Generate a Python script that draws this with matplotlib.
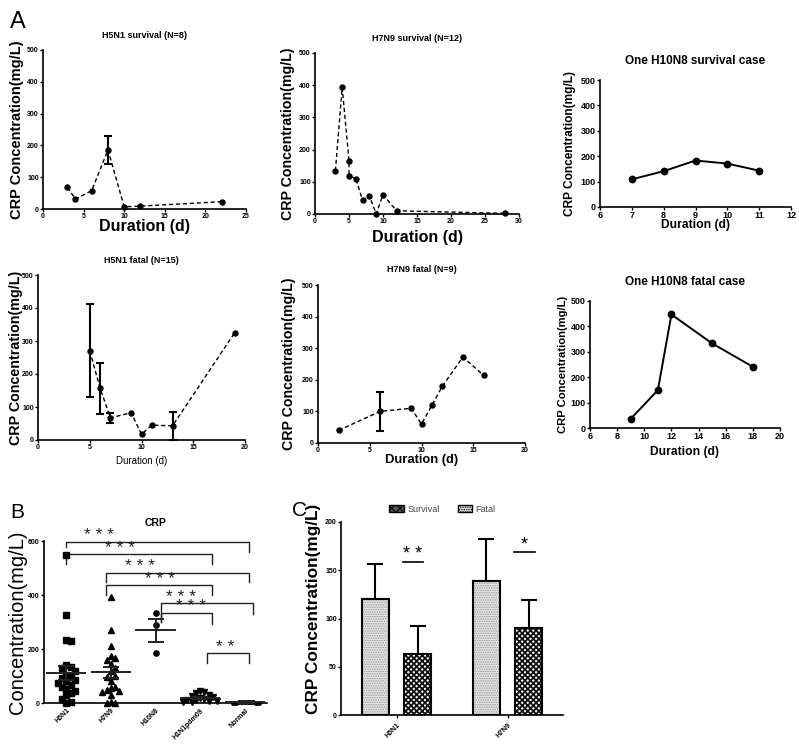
import matplotlib
matplotlib.use('Agg')
import matplotlib.pyplot as plt
from matplotlib.patches import Patch
import numpy as np

plt.rcParams['font.family'] = ['Liberation Sans', 'DejaVu Sans']
plt.rcParams['hatch.linewidth'] = 0.7

# ---------------- data ----------------
# Panel A: time courses
h5n1_surv_day = [3, 4, 6, 8, 10, 12, 22]
h5n1_surv_crp = [68, 31, 58, 186, 7, 9, 23]
h5n1_surv_err = [0, 0, 0, 44, 0, 0, 0]

h7n9_surv_day = [3, 4, 5, 5, 6, 7, 8, 9, 10, 12, 28]
h7n9_surv_crp = [134, 393, 166, 119, 110, 42, 56, 0, 60, 10, 2]

h10n8_surv_day = [7, 8, 9, 10, 11]
h10n8_surv_crp = [109, 141, 183, 171, 143]

h5n1_fatal_day = [5, 6, 7, 9, 10, 11, 13, 19]
h5n1_fatal_crp = [270, 157, 67, 83, 17, 45, 43, 325]
h5n1_fatal_err = [141, 77, 15, 0, 0, 0, 42, 0]

h7n9_fatal_day = [2, 6, 9, 10, 11, 12, 14, 16]
h7n9_fatal_crp = [40, 100, 110, 60, 119, 179, 272, 214]
h7n9_fatal_err = [0, 61, 0, 0, 0, 0, 0, 0]

h10n8_fatal_day = [9, 11, 12, 15, 18]
h10n8_fatal_crp = [36, 149, 447, 333, 241]

# Panel B: scatter per group
groups_B = ['H5N1', 'H7N9', 'H10N8', 'H1N1pdm09', 'Normal']
b_h5n1 = [550, 327, 232, 229, 140, 135, 128, 118, 105, 98, 92, 86, 80, 75, 68,
          60, 52, 45, 38, 28, 15, 5, 0]
b_h7n9 = [393, 269, 211, 175, 165, 160, 145, 130, 120, 100, 98, 80, 60, 55, 50,
          45, 40, 30, 5, 0, 0]
b_h10n8 = [333, 290, 186]
b_h1n1 = [45, 40, 36, 30, 26, 22, 18, 15, 12, 10, 8, 6, 4, 2]
b_normal = [3, 3, 2, 2, 2, 2, 1, 1, 1, 1]
b_means = [111, 114, 269, 18, 2]
b_sems = [26, 20, 42, 4, 0.5]
b_markers = ['s', '^', 'o', 'v', 'o']
sig_B = ['***', '***', '***', '***', '***', '***', '**']

# Panel C: bars
groups_C = ['H5N1', 'H7N9']
c_survival = [120, 139]
c_survival_err = [36, 43]
c_fatal = [63, 90]
c_fatal_err = [29, 29]
sig_C = ['**', '*']

# ---------------- figure ----------------
W, H = 799, 756
fig = plt.figure(figsize=(W / 100, H / 100), dpi=100)


def add_ax(x0, y0, x1, y1):
    return fig.add_axes([x0 / W, 1 - y1 / H, (x1 - x0) / W, (y1 - y0) / H])


def style(ax, tick_fs):
    for s in ['top', 'right']:
        ax.spines[s].set_visible(False)
    for s in ['left', 'bottom']:
        ax.spines[s].set_linewidth(1.2)
    ax.tick_params(length=2.2, width=1.0, labelsize=tick_fs, pad=0.8)
    for lab in ax.get_xticklabels() + ax.get_yticklabels():
        lab.set_fontweight('bold')


def panelA(ax, days, crp, err, xlim, xticks, title, title_fs, title_y,
           xlab_fs, xlab_bold, xlab_y, ylab_fs, ylab_x, tick_fs, dashed=True):
    ls = (0, (3, 2)) if dashed else '-'
    lw = 1.0 if dashed else 1.4
    ms = 3.6 if dashed else 4.6
    ax.plot(days, crp, linestyle=ls, color='black', lw=lw, marker='o',
            ms=ms, clip_on=False, zorder=3)
    if err is not None:
        d = [x for x, e in zip(days, err) if e > 0]
        c = [y for y, e in zip(crp, err) if e > 0]
        e2 = [e for e in err if e > 0]
        ax.errorbar(d, c, yerr=e2, fmt='none', ecolor='black', elinewidth=1.5,
                    capsize=3, capthick=1.5, clip_on=False, zorder=3)
    ax.set_xlim(*xlim)
    ax.set_xticks(xticks)
    ax.set_ylim(0, 500)
    ax.set_yticks([0, 100, 200, 300, 400, 500])
    style(ax, tick_fs)
    ax.text(0.5, title_y, title, transform=ax.transAxes, ha='center',
            va='center', fontsize=title_fs, fontweight='bold')
    ax.set_xlabel('Duration (d)', fontsize=xlab_fs,
                  fontweight='bold' if xlab_bold else 'normal')
    ax.xaxis.set_label_coords(0.5, xlab_y)
    ax.xaxis.label.set_va('center')
    ax.set_ylabel('CRP Concentration(mg/L)', fontsize=ylab_fs, fontweight='bold')
    ax.yaxis.set_label_coords(ylab_x, 0.5)
    ax.yaxis.label.set_va('center')


ax1 = add_ax(43, 50, 246, 209)
panelA(ax1, h5n1_surv_day, h5n1_surv_crp, h5n1_surv_err, (0, 25), range(0, 26, 5),
       'H5N1 survival (N=8)', 6.5, 1.094, 11.5, True, -0.112, 10.5, -0.128, 5)

ax2 = add_ax(315, 53, 519, 214)
panelA(ax2, h7n9_surv_day, h7n9_surv_crp, None, (0, 30), range(0, 31, 5),
       'H7N9 survival (N=12)', 6.5, 1.093, 11.5, True, -0.143, 10.2, -0.132, 5)

ax3 = add_ax(600, 80, 791, 207)
panelA(ax3, h10n8_surv_day, h10n8_surv_crp, None, (6, 12), range(6, 13),
       'One H10N8 survival case', 8.5, 1.15, 8.7, True, -0.14, 8.6, -0.157, 6.5,
       dashed=False)

ax4 = add_ax(38, 275, 245, 440)
panelA(ax4, h5n1_fatal_day, h5n1_fatal_crp, h5n1_fatal_err, (0, 20), range(0, 21, 5),
       'H5N1 fatal (N=15)', 6.5, 1.09, 7, False, -0.127, 10.3, -0.106, 5)

ax5 = add_ax(318, 285, 525, 443)
panelA(ax5, h7n9_fatal_day, h7n9_fatal_crp, h7n9_fatal_err, (0, 20), range(0, 21, 5),
       'H7N9 fatal (N=9)', 6.5, 1.095, 9.4, True, -0.11, 10.2, -0.14, 5)

ax6 = add_ax(590, 301, 780, 428)
panelA(ax6, h10n8_fatal_day, h10n8_fatal_crp, None, (6, 20), range(6, 21, 2),
       'One H10N8 fatal case', 8.5, 1.15, 8.7, True, -0.189, 8.1, -0.142, 6.5,
       dashed=False)

# ---------------- Panel B ----------------
axB = add_ax(44, 541, 267, 703)


def swarm_offsets(vals, w, h):
    vals = np.asarray(vals, dtype=float)
    order = np.argsort(-vals, kind='stable')
    placed = []
    offs = np.zeros(len(vals))
    cands = [0.0]
    for j in range(1, 12):
        cands += [j * w, -j * w]
    for i in order:
        v = vals[i]
        for c in cands:
            if all(abs(c - po) >= w * 0.95 or abs(v - pv) >= h for po, pv in placed):
                offs[i] = c
                placed.append((c, v))
                break
    return offs


b_data = [b_h5n1, b_h7n9, b_h10n8, b_h1n1, b_normal]
swarm_w = [0.095, 0.095, 0.095, 0.095, 0.065]
for i, vals in enumerate(b_data):
    offs = swarm_offsets(vals, swarm_w[i], 24)
    ms = 3.8 if b_markers[i] != 'o' or i == 2 else 2.6
    axB.plot(i + offs, vals, linestyle='none', marker=b_markers[i], color='black',
             ms=ms, clip_on=False, zorder=3)
    m, s = b_means[i], b_sems[i]
    axB.plot([i - 0.43, i + 0.43], [m, m], color='#222222', lw=1.4, zorder=4)
    axB.errorbar([i], [m], yerr=[s], fmt='none', ecolor='#222222', elinewidth=1.4,
                 capsize=5.5, capthick=1.4, zorder=4)

axB.set_xlim(-0.5, 4.5)
axB.set_ylim(0, 600)
axB.set_yticks([0, 200, 400, 600])
axB.set_xticks(range(5))
axB.set_xticklabels(groups_B, rotation=45, ha='right', rotation_mode='anchor')
style(axB, 5)
axB.tick_params(axis='x', length=0, pad=3)
axB.set_ylabel('Concentration(mg/L)', fontsize=14.5)
axB.yaxis.set_label_coords(-0.121, 0.5)
axB.yaxis.label.set_va('center')
axB.text(0.5, 1.11, 'CRP', transform=axB.transAxes, ha='center', va='center',
         fontsize=7.5, fontweight='bold')

# brackets: (x_left, x_right, y_line, y_left_end, y_right_end, text_x, text_y)
brackets_B = [
    (0.0, 4.1, 596, 578, 559, 0.74, 602),
    (0.0, 3.27, 551, 514, 514, 1.20, 556),
    (0.89, 4.1, 483, 448, 448, 1.65, 488),
    (0.89, 3.27, 436, 399, 399, 2.10, 441),
    (2.12, 4.19, 370, 300, 331, 2.57, 375),
    (2.12, 3.27, 335, 300, 294, 2.80, 340),
    (3.15, 4.1, 185, 148, 148, 3.56, 190),
]
for (xl, xr, yl, yle, yre, tx, ty), lab in zip(brackets_B, sig_B):
    axB.plot([xl, xl, xr, xr], [yle, yl, yl, yre], color='#222222', lw=1.0,
             clip_on=False, zorder=2)
    axB.text(tx, ty, ' '.join(lab), ha='center', va='baseline', fontsize=12.5,
             color='#222222', clip_on=False)

# ---------------- Panel C ----------------
axC = add_ax(341, 522, 563, 715)
xc = np.arange(len(groups_C))
bw = 0.25
light_fc, light_hc, light_h = '#e4e4e4', '#9a9a9a', '.......'
dark_fc, dark_hc, dark_h = 'white', '#111111', 'xxxxxx'

axC.bar(xc - 0.19, c_survival, bw, color=light_fc, edgecolor=light_hc,
        hatch=light_h, linewidth=0, zorder=2)
axC.bar(xc - 0.19, c_survival, bw, fill=False, edgecolor='black', linewidth=1.5, zorder=3)
with plt.rc_context({'hatch.linewidth': 1.3}):
    axC.bar(xc + 0.19, c_fatal, bw, color=dark_fc, edgecolor=dark_hc,
            hatch=dark_h, linewidth=0, zorder=2)
axC.bar(xc + 0.19, c_fatal, bw, fill=False, edgecolor='black', linewidth=1.5, zorder=3)
axC.errorbar(xc - 0.19, c_survival, yerr=[[0] * len(xc), c_survival_err], fmt='none',
             ecolor='black', elinewidth=1.5, capsize=6, capthick=1.5, zorder=1)
axC.errorbar(xc + 0.19, c_fatal, yerr=[[0] * len(xc), c_fatal_err], fmt='none',
             ecolor='black', elinewidth=1.5, capsize=6, capthick=1.5, zorder=1)

axC.set_xlim(-0.5, 1.5)
axC.set_ylim(0, 200)
axC.set_yticks([0, 50, 100, 150, 200])
axC.set_xticks(xc)
axC.set_xticklabels(groups_C, rotation=45, ha='right', rotation_mode='anchor')
style(axC, 5)
axC.tick_params(axis='x', pad=3)
axC.set_ylabel('CRP Concentration(mg/L)', fontsize=12.4, fontweight='bold')
axC.yaxis.set_label_coords(-0.126, 0.55)
axC.yaxis.label.set_va('center')

# significance lines: (x_left, x_right, y_line, text_x)
sig_lines_C = [(0.06, 0.24, 158.5, 0.145), (1.06, 1.25, 169, 1.155)]
for (xl, xr, yl, tx), lab in zip(sig_lines_C, sig_C):
    axC.plot([xl, xr], [yl, yl], color='black', lw=1.2)
    axC.text(tx, yl + 3, ' '.join(lab), ha='center', va='baseline', fontsize=13)

handles = [Patch(facecolor='#555555', edgecolor='black', hatch='xxxx', linewidth=1.0),
           Patch(facecolor=light_fc, edgecolor='black', hatch=light_h, linewidth=1.0)]
leg = axC.legend(handles, ['Survival', 'Fatal'], loc='center',
                 bbox_to_anchor=(0.457, 1.067), ncol=2, frameon=False, fontsize=6.5,
                 handlelength=1.6, handleheight=0.7, columnspacing=2.0,
                 handletextpad=0.4, borderpad=0)
for t in leg.get_texts():
    t.set_color('#444444')

# panel letters
fig.text(10 / W, 1 - 22 / H, 'A', fontsize=17, va='center', ha='left')
fig.text(10 / W, 1 - 512 / H, 'B', fontsize=15, va='center', ha='left')
fig.text(292 / W, 1 - 510 / H, 'C', fontsize=15, va='center', ha='left')

fig.savefig('out.png', dpi=100)
